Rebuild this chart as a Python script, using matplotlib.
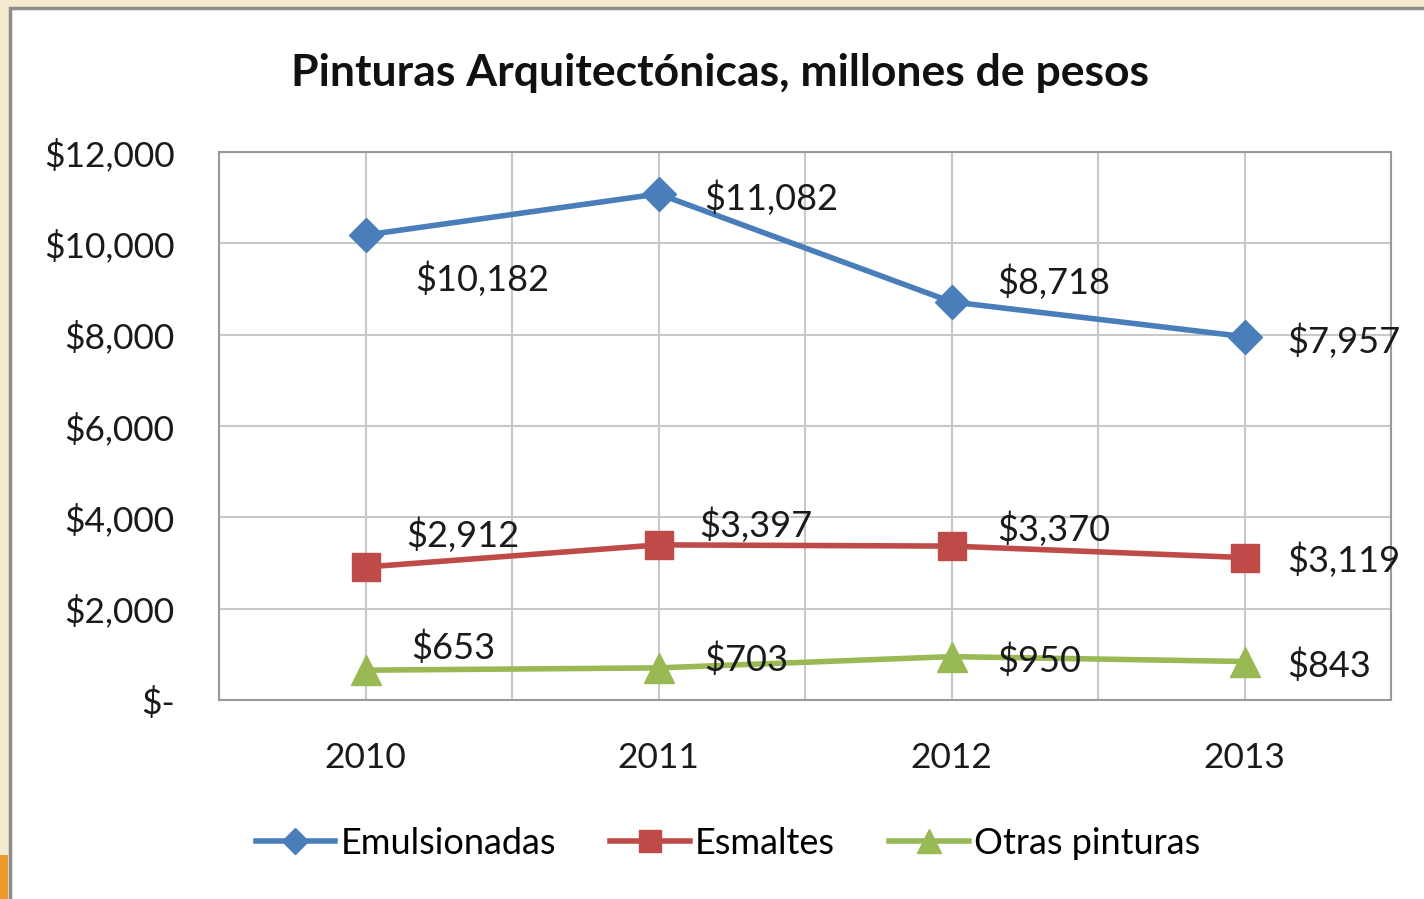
import matplotlib.pyplot as plt
from matplotlib.patches import Rectangle
from matplotlib.ticker import MultipleLocator, FuncFormatter

years = ['2010', '2011', '2012', '2013']
emulsionadas = [10182, 11082, 8718, 7957]
esmaltes = [2912, 3397, 3370, 3119]
otras = [653, 703, 950, 843]

plt.rcParams['font.family'] = ['Lato', 'DejaVu Sans']

fig = plt.figure(figsize=(14.24, 8.99), dpi=100)
fig.patch.set_facecolor('#f3ead0')
# white chart panel with gray frame
fig.patches.append(Rectangle((10 / 1424, -0.01), 1.0, 1.01 - 8 / 899, transform=fig.transFigure,
                             facecolor='white', edgecolor='#8c8c8c', linewidth=2.5, zorder=-10))
fig.patches.append(Rectangle((0, 0), 8 / 1424, 44 / 899, transform=fig.transFigure,
                             facecolor='#ee9a2c', edgecolor='none', zorder=-10))

ax = fig.add_axes([219 / 1424, 1 - 700 / 899, 1172 / 1424, 548 / 899])
ax.set_facecolor('white')

x = range(len(years))
ax.plot(x, emulsionadas, color='#4a7ebb', lw=4, marker='D', ms=17, label='Emulsionadas')
ax.plot(x, esmaltes, color='#be4b48', lw=4, marker='s', ms=20, label='Esmaltes')
ax.plot(x, otras, color='#98b954', lw=4, marker='^', ms=22, label='Otras pinturas')

ax.set_xlim(-0.5, 3.5)
ax.set_ylim(0, 12000)
ax.yaxis.set_major_locator(MultipleLocator(2000))
ax.yaxis.set_major_formatter(FuncFormatter(lambda v, p: '$-' if v == 0 else '${:,.0f}'.format(v)))
ax.set_xticks(list(x))
ax.set_xticklabels(years)
ax.set_xticks([-0.5, 0.5, 1.5, 2.5, 3.5], minor=True)
ax.grid(True, which='both', color='#c8c8c8', lw=1.5)
ax.set_axisbelow(True)
ax.tick_params(axis='both', which='both', length=0, labelsize=25.5, colors='#1a1a1a')
ax.tick_params(axis='x', pad=30)
ax.tick_params(axis='y', pad=32)
for s in ax.spines.values():
    s.set_color('#9a9a9a')
    s.set_linewidth(1.5)

def money(v):
    return '${:,}'.format(v)

emu_off = [(36, -32), (33, -3), (33, 14), (31, -3)]
esm_off = [(29, 23), (29, 14), (33, 12), (31, -2)]
otr_off = [(33, 16), (33, 6), (33, -3), (31, -3)]
for vals, offs in [(emulsionadas, emu_off), (esmaltes, esm_off), (otras, otr_off)]:
    for i, v in enumerate(vals):
        ax.annotate(money(v), (i, v), xytext=offs[i], textcoords='offset points',
                    ha='left', va='center', fontsize=26, color='#1a1a1a')

fig.text(720 / 1424, 1 - 73 / 899, 'Pinturas Arquitectónicas, millones de pesos',
         ha='center', va='center', fontsize=32, fontweight='bold', color='#111111')

fig.legend(loc='center', bbox_to_anchor=(728 / 1424, 1 - 843 / 899), ncol=3, frameon=False,
           fontsize=26, handlelength=2.2, columnspacing=1.5, handletextpad=0.15,
           markerscale=0.8)

fig.savefig('out.png', dpi=100, facecolor=fig.get_facecolor())
